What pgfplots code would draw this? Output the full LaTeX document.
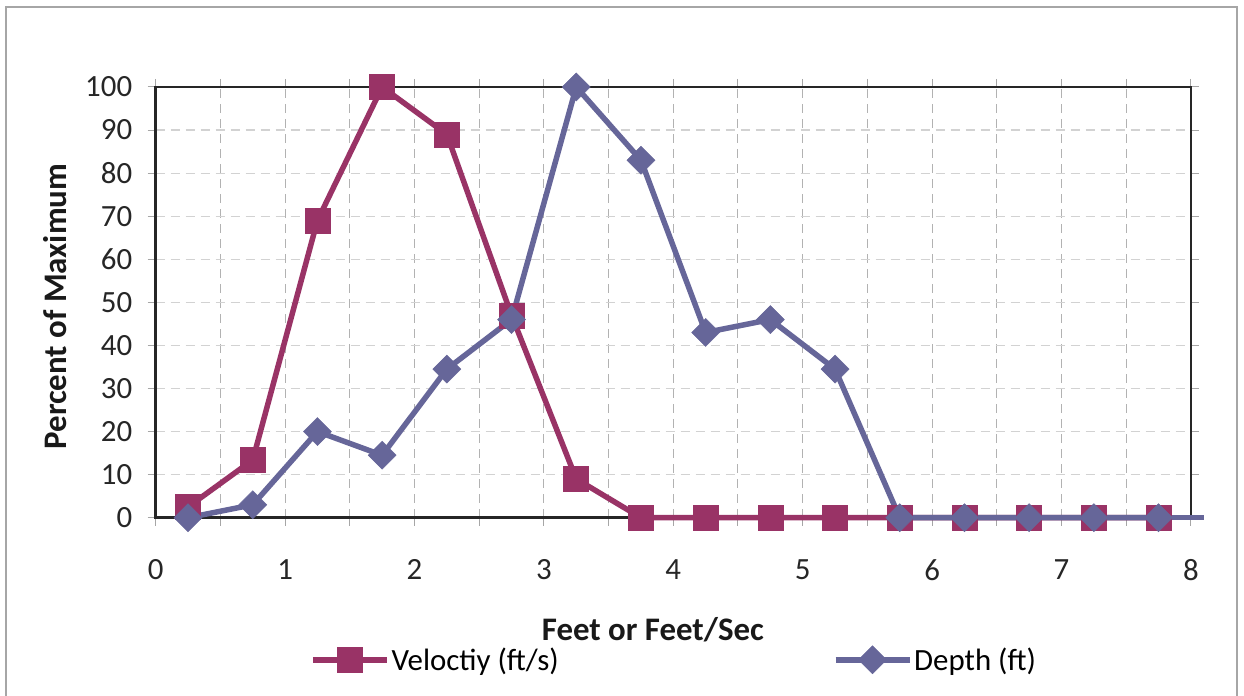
\documentclass[border=0pt]{standalone}
\usepackage{fontspec}
\setmainfont{Carlito}
\usepackage{pgfplots}
\pgfplotsset{compat=1.18}
\definecolor{velc}{HTML}{993366}
\definecolor{depc}{HTML}{666699}
\definecolor{framec}{HTML}{A6A6A6}
\begin{document}
\begin{tikzpicture}[x=1bp,y=1bp]
\useasboundingbox (-155.7,-178.3) rectangle (1088.3,517.7);
\draw[framec, line width=1.2bp] (-149.7,-200) -- (-149.7,510.7) -- (1081.3,510.7) -- (1081.3,-200);
\begin{axis}[
  at={(0,0)}, anchor=south west, scale only axis,
  width=1035.3bp, height=430.7bp,
  xmin=0, xmax=8, ymin=0, ymax=100,
  xtick={0,1,...,8}, minor xtick={0.5,1.5,...,7.5},
  ytick={0,10,...,100},
  grid=both,
  x grid style={dash pattern=on 9bp off 6bp, gray!60, line width=1bp},
  y grid style={dash pattern=on 9bp off 6bp, gray!35, line width=1.2bp},
  major grid style={},
  minor grid style={},
  tick align=outside, major tick length=8bp, minor tick length=8bp,
  tick style={gray!70, line width=1bp},
  axis line style={black!85, line width=2.4bp},
  /pgf/number format/assume math mode=true,
  ticklabel style={font=\fontsize{31}{33}\selectfont, black!85},
  yticklabel style={xshift=-12bp},
  xticklabel style={yshift=-30bp},
  xlabel={Feet or Feet/Sec},
  ylabel={Percent of Maximum},
  label style={font=\bfseries\fontsize{33}{36}\selectfont, black!90},
  xlabel style={at={(axis description cs:0.4803,-0.260)}, anchor=center},
  ylabel style={at={(axis description cs:-0.0973,0.49)}, anchor=center},
  clip=false,
  legend style={at={(0.149,-0.330)}, anchor=west, draw=none, fill=none, inner sep=0pt,
    font=\fontsize{31}{33}\selectfont, legend columns=2,
    /tikz/every even column/.append style={column sep=272bp}},
  legend cell align=left,
  legend image code/.code={\draw[mark repeat=2, mark phase=2] plot coordinates {(0bp,0bp) (37bp,0bp) (74bp,0bp)};},
]
\addplot[color=velc, line width=5.5bp, mark=square*, mark size=12.5bp, mark options={solid, line width=0.5bp, fill=velc}]
coordinates {
(0.25,2.5) (0.75,13.4) (1.25,69) (1.75,100) (2.25,89) (2.75,47) (3.25,9)
(3.75,0) (4.25,0) (4.75,0) (5.25,0) (5.75,0) (6.25,0) (6.75,0) (7.25,0) (7.75,0)
};
\addlegendentry{Veloctiy (ft/s)}
\addplot[color=depc, line width=5.5bp, forget plot] coordinates {(7.75,0) (8.1,0)};
\addplot[color=depc, line width=5.5bp, mark=diamond*, mark size=14bp, mark options={solid, line width=0.5bp, fill=depc, xscale=1.333}]
coordinates {
(0.25,0) (0.75,3) (1.25,20) (1.75,14.5) (2.25,34.5) (2.75,46) (3.25,100)
(3.75,83) (4.25,43) (4.75,46) (5.25,34.5) (5.75,0) (6.25,0) (6.75,0) (7.25,0) (7.75,0)
};
\addlegendentry{Depth (ft)}
\end{axis}
\end{tikzpicture}
\end{document}
